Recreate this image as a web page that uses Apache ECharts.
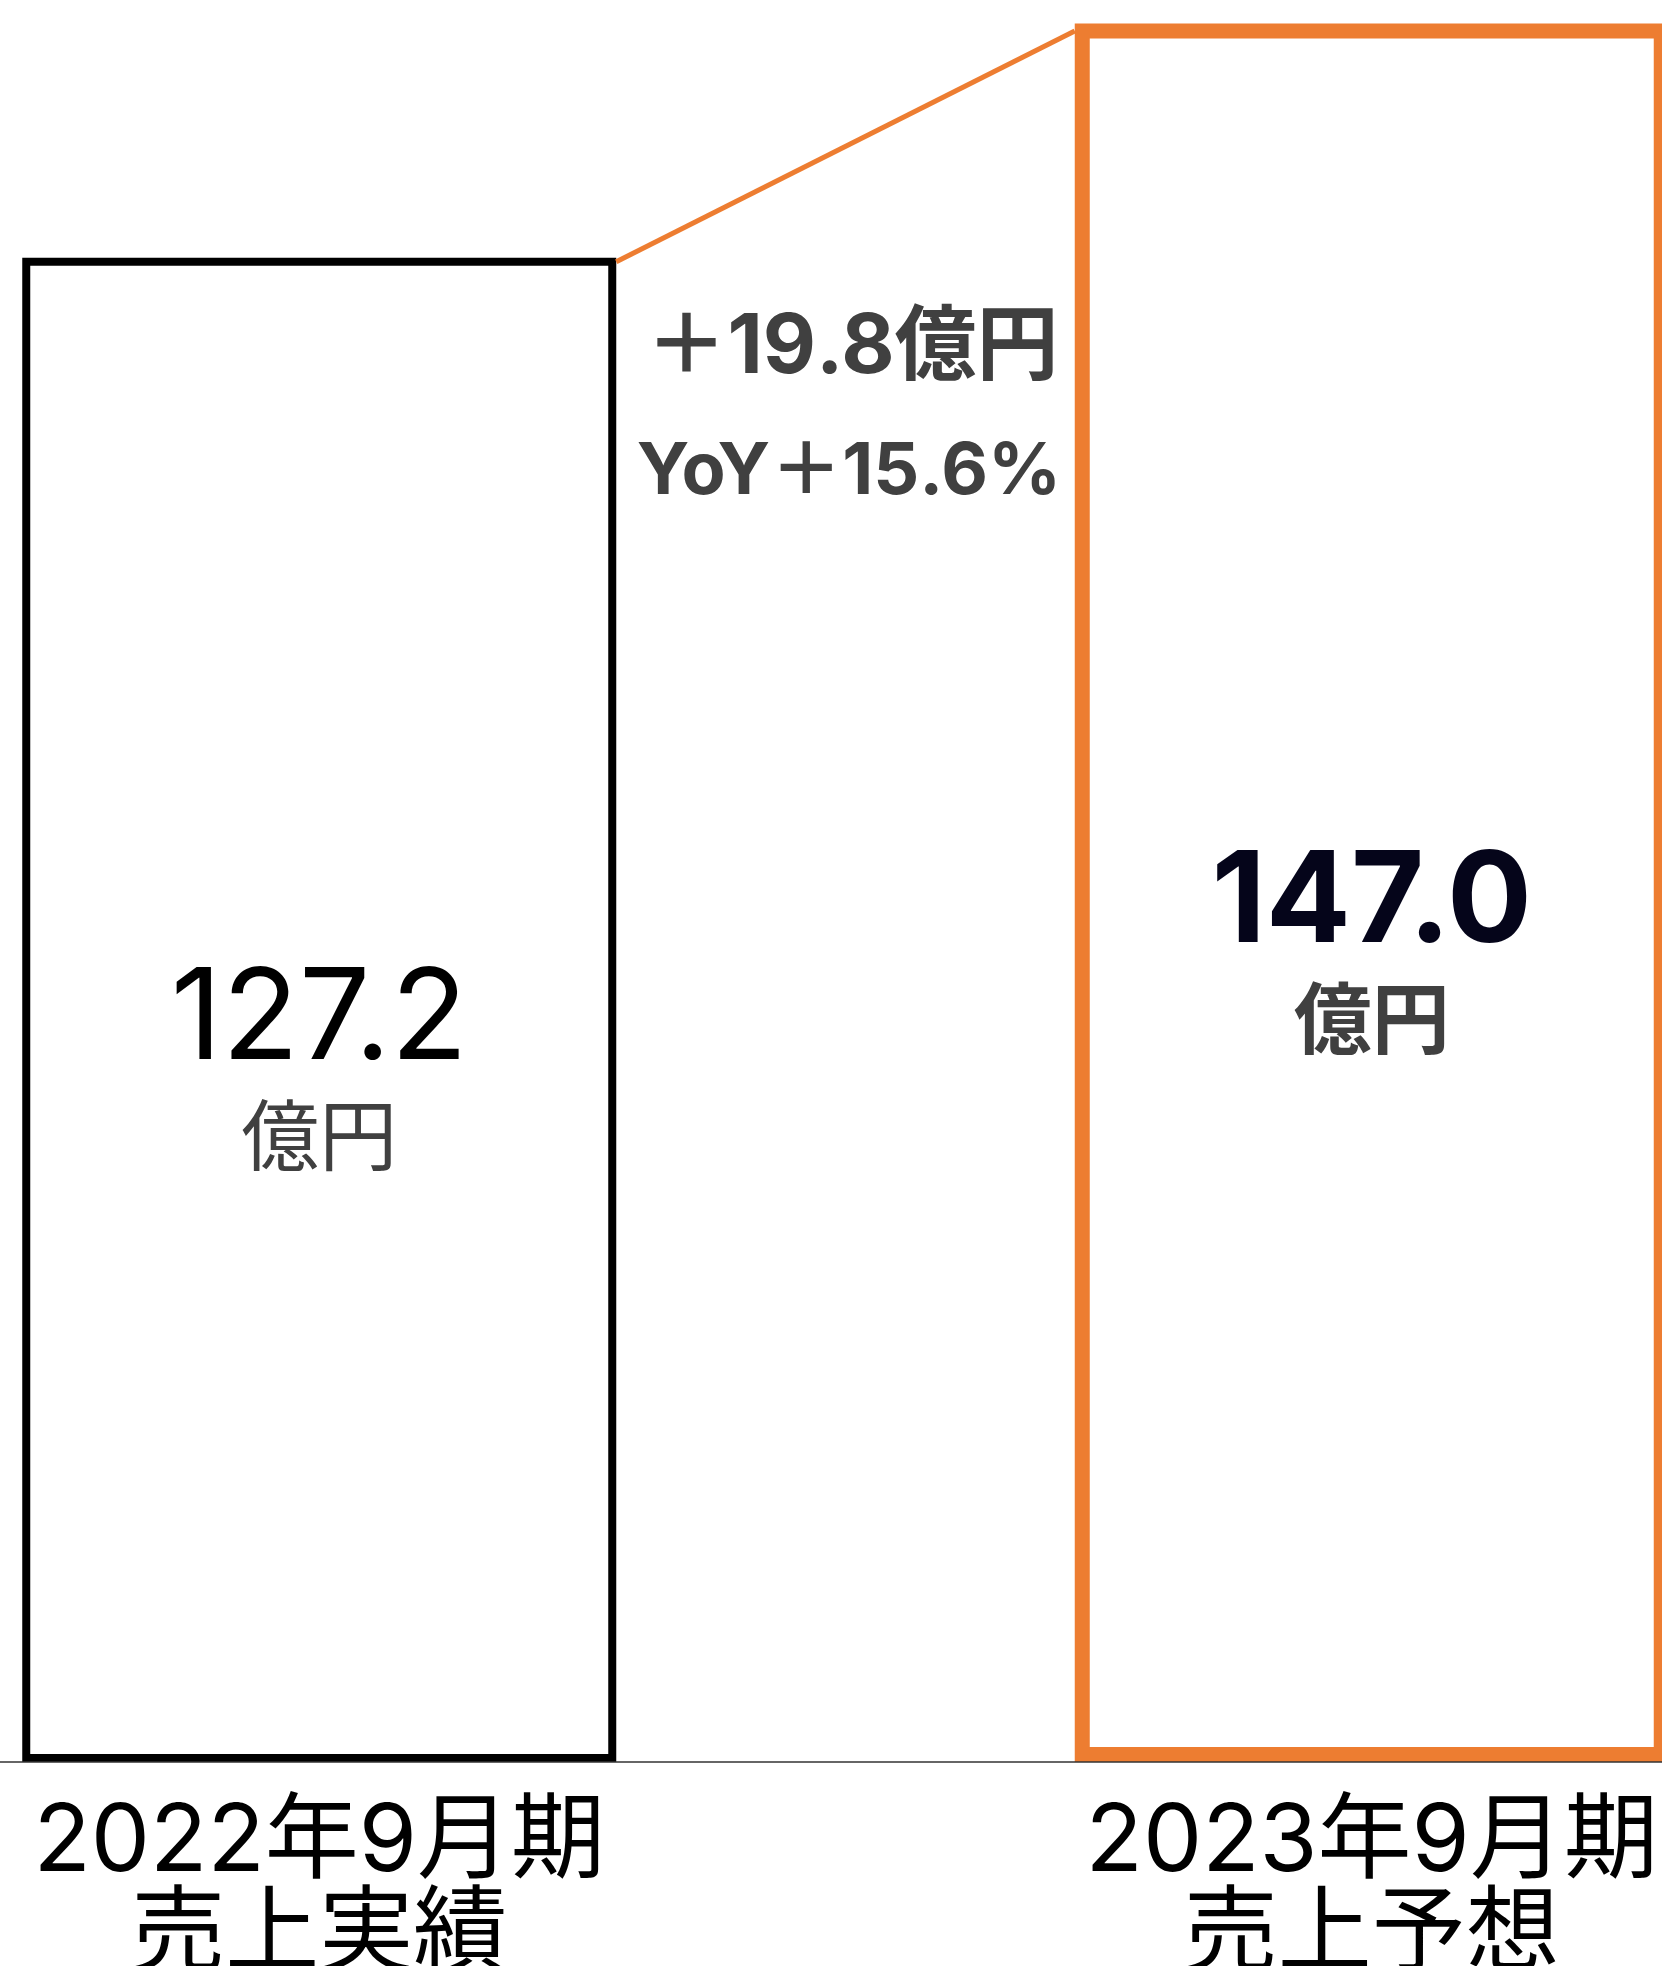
<!DOCTYPE html>
<html>
<head>
<meta charset="utf-8">
<script src="https://cdn.jsdelivr.net/npm/echarts@6/dist/echarts.min.js"></script>
<style>
  html, body { margin: 0; padding: 0; background: #fff; }
  #main { width: 1662px; height: 1966px; }
</style>
</head>
<body>
<div id="main"></div>
<script>
  // 売上データ（億円）
  var categories = ['2022年9月期\n売上実績', '2023年9月期\n売上予想'];
  var sales = [127.2, 147.0];
  var unit = '億円';
  var diffLabel = '＋19.8億円';
  var yoyLabel = 'YoY＋15.6%';

  var FONT = "Inter, 'Noto Sans CJK JP', sans-serif";
  var ORANGE = '#ED7D31';
  var BAR_W = 594;
  var borders = [8, 15];

  var chart = echarts.init(document.getElementById('main'));

  function valueLabel(bold, numColor) {
    return {
      show: true,
      position: 'inside',
      offset: [0, 71],
      textBorderWidth: 0,
      formatter: function (p) {
        return '{v|' + p.value.toFixed(1) + '}\n{u|' + unit + '}';
      },
      rich: {
        v: { fontFamily: FONT, fontSize: 126, fontWeight: bold ? 'bold' : 'normal', color: numColor, lineHeight: 122 },
        u: { fontFamily: FONT, fontSize: 78, fontWeight: bold ? 'bold' : 'normal', color: '#404040', lineHeight: 120 }
      }
    };
  }

  var option = {
    animation: false,
    backgroundColor: '#fff',
    grid: {
      left: -207, right: -236, top: -12, bottom: 204,
      containLabel: false,
      outerBoundsMode: 'none'
    },
    xAxis: {
      type: 'category',
      data: categories,
      z: 5,
      axisLine: { show: true, lineStyle: { color: '#333', width: 1.5 } },
      axisTick: { show: false },
      axisLabel: {
        interval: 0,
        margin: 34,
        fontFamily: FONT,
        fontSize: 94,
        lineHeight: 93,
        color: '#000'
      }
    },
    yAxis: {
      type: 'value',
      min: 0,
      max: 150,
      show: false,
      splitLine: { show: false }
    },
    graphic: [
      {
        type: 'text', x: 852, y: 348, z: 10,
        style: { text: diffLabel, font: 'bold 82px ' + FONT, fill: '#404040', align: 'center', verticalAlign: 'middle' }
      },
      {
        type: 'text', x: 849, y: 472, z: 10,
        style: { text: yoyLabel, font: 'bold 72px ' + FONT, fill: '#404040', align: 'center', verticalAlign: 'middle' }
      }
    ],
    series: [
      {
        type: 'bar',
        barWidth: BAR_W,
        clip: false,
        data: [
          {
            value: sales[0],
            itemStyle: { color: '#fff', borderColor: '#000', borderWidth: borders[0] },
            label: valueLabel(false, '#000')
          },
          {
            value: sales[1],
            itemStyle: { color: '#fff', borderColor: ORANGE, borderWidth: borders[1] },
            label: valueLabel(true, '#05051a')
          }
        ]
      },
      {
        // 前期バー右上から今期バー左上への連結線
        type: 'custom',
        z: 4,
        data: [[0, sales[0], 1, sales[1]]],
        renderItem: function (params, api) {
          var p1 = api.coord([api.value(0), api.value(1)]);
          var p2 = api.coord([api.value(2), api.value(3)]);
          return {
            type: 'line',
            shape: {
              x1: p1[0] + BAR_W / 2,
              y1: p1[1] + borders[0] / 2,
              x2: p2[0] - BAR_W / 2,
              y2: p2[1] + borders[1] / 2
            },
            style: { stroke: ORANGE, lineWidth: 5 }
          };
        }
      }
    ]
  };

  chart.setOption(option);
</script>
</body>
</html>
